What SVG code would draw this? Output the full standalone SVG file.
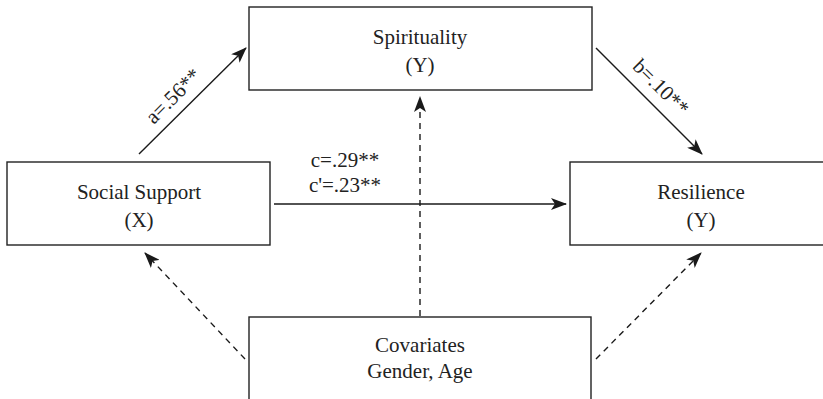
<svg xmlns="http://www.w3.org/2000/svg" width="823" height="399" viewBox="0 0 823 399">
<defs>
<marker id="ah" markerUnits="userSpaceOnUse" markerWidth="16" markerHeight="12" refX="15" refY="6" orient="auto">
<path d="M0,0 L16,6 L0,12 L4,6 Z" fill="#1a1a1a"/>
</marker>
<style>
.box{fill:#fff;stroke:#222;stroke-width:1.4}
.t{font-family:"Liberation Serif","Times New Roman",serif;font-size:21px;fill:#222;text-anchor:middle}
.e{stroke:#1a1a1a;stroke-width:1.4;fill:none;marker-end:url(#ah)}
.d{stroke-dasharray:6 5}
</style>
</defs>
<rect width="823" height="399" fill="#fff"/>
<g id="connectors">
<line class="e" x1="139" y1="154" x2="246" y2="48"/>
<line class="e" x1="596" y1="48" x2="702" y2="154"/>
<line class="e" x1="274" y1="204" x2="566" y2="204"/>
<line class="e d" x1="420" y1="316" x2="420" y2="97"/>
<line class="e d" x1="245" y1="359" x2="145" y2="253"/>
<line class="e d" x1="596" y1="359" x2="701" y2="253"/>
<text class="t" transform="translate(178,101) rotate(-44.7)">a=.56**</text>
<text class="t" transform="translate(656,92) rotate(45)">b=.10**</text>
<text class="t" x="345" y="167">c=.29**</text>
<text class="t" x="345" y="192">c'=.23**</text>
</g>
<g id="spirituality">
<rect class="box" x="249" y="7" width="343" height="83"/>
<text class="t" x="420" y="44">Spirituality</text>
<text class="t" x="420" y="72">(Y)</text>
</g>
<g id="social-support">
<rect class="box" x="7" y="162" width="263" height="83"/>
<text class="t" x="139" y="199">Social Support</text>
<text class="t" x="139" y="227">(X)</text>
</g>
<g id="resilience">
<rect class="box" x="570" y="162" width="262" height="83"/>
<text class="t" x="701" y="199">Resilience</text>
<text class="t" x="701" y="227">(Y)</text>
</g>
<g id="covariates">
<rect class="box" x="249" y="317" width="342" height="100"/>
<text class="t" x="420" y="352">Covariates</text>
<text class="t" x="420" y="378">Gender, Age</text>
</g>
</svg>
